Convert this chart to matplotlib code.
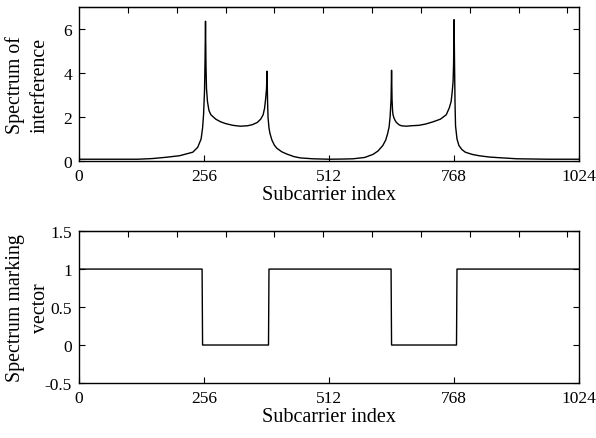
import numpy as np
import matplotlib
matplotlib.use('Agg')
import matplotlib.pyplot as plt

plt.rcParams['font.family'] = ['Liberation Serif', 'DejaVu Serif']

# spectrum of interference (subcarrier index, value)
sub_idx = [0, 60, 120, 131, 150, 179, 206, 233, 243, 250, 253, 255, 257, 258, 259,
           260, 261, 263, 266, 270, 280, 290, 300, 315, 330, 345, 355, 365, 372,
           377, 380, 382, 384, 385, 386, 387, 389, 391, 395, 400, 405, 415, 425,
           440, 453, 479, 512, 545, 561, 585, 602, 612, 622, 628, 632, 635, 637,
           639, 640, 641, 642, 643, 645, 647, 650, 655, 660, 670, 680, 696, 710,
           725, 740, 752, 758, 762, 764, 766, 767, 768, 769, 770, 771, 774, 778,
           784, 791, 805, 819, 840, 860, 897, 960, 1023]
interference = [0.08, 0.08, 0.08, 0.09, 0.11, 0.17, 0.24, 0.40, 0.62, 1.00, 1.50, 2.10,
                3.20, 4.50, 6.35, 4.30, 3.30, 2.70, 2.30, 2.10, 1.90, 1.78, 1.70, 1.62,
                1.58, 1.60, 1.65, 1.75, 1.90, 2.10, 2.40, 2.80, 3.30, 4.08, 2.80, 2.00,
                1.50, 1.25, 0.95, 0.72, 0.58, 0.42, 0.32, 0.20, 0.14, 0.10, 0.08, 0.09,
                0.10, 0.16, 0.30, 0.45, 0.70, 0.95, 1.25, 1.55, 2.00, 2.80, 4.12, 2.80,
                2.30, 2.10, 1.95, 1.85, 1.75, 1.65, 1.60, 1.58, 1.60, 1.62, 1.68, 1.78,
                1.90, 2.10, 2.40, 2.70, 3.10, 3.60, 4.40, 6.42, 4.40, 2.60, 1.60, 1.00,
                0.70, 0.52, 0.40, 0.30, 0.24, 0.18, 0.15, 0.10, 0.08, 0.08]

# spectrum marking vector: segment edges and levels
mark_edges = [0, 253, 389, 640, 774, 1024]
mark_levels = [1, 0, 1, 0, 1]

n_sub = np.arange(0, 1025)
marking = np.repeat(mark_levels, np.diff(mark_edges))
marking = np.append(marking, mark_levels[-1])

fig = plt.figure(figsize=(5.96, 4.39), dpi=100)
ax1 = fig.add_axes([0.1326, 0.631, 0.839, 0.351])
ax2 = fig.add_axes([0.1326, 0.1253, 0.839, 0.346])

ax1.plot(sub_idx, interference, 'k-', lw=1.0)
ax1.set_ylim(0, 7)
ax1.set_yticks([0, 2, 4, 6])
ax1.set_ylabel('Spectrum of\ninterference', fontsize=14.3, linespacing=1.4)

ax2.plot(n_sub, marking, 'k-', lw=1.0)
ax2.set_ylim(-0.5, 1.5)
ax2.set_yticks([-0.5, 0, 0.5, 1, 1.5])
ax2.set_yticklabels(['-0.5', '0', '0.5', '1', '1.5'])
ax2.set_ylabel('Spectrum marking\nvector', fontsize=14.3, linespacing=1.4)

for ax in (ax1, ax2):
    ax.set_xlim(0, 1024)
    ax.set_xticks([0, 256, 512, 768, 1024])
    ax.set_xlabel('Subcarrier index', fontsize=14.5, labelpad=1)
    ax.yaxis.set_label_coords(-0.058, 0.5)
    ax.tick_params(axis='both', direction='in', length=4, width=0.8, labelsize=12.5,
                   right=True, top=False, pad=5)
    for s in ax.spines.values():
        s.set_linewidth(1.0)
    top = ax.secondary_xaxis('top')
    top.set_xticks(np.arange(100, 1024, 100))
    top.tick_params(direction='in', length=4, width=0.8, labeltop=False)

fig.savefig('out.png', dpi=100)
